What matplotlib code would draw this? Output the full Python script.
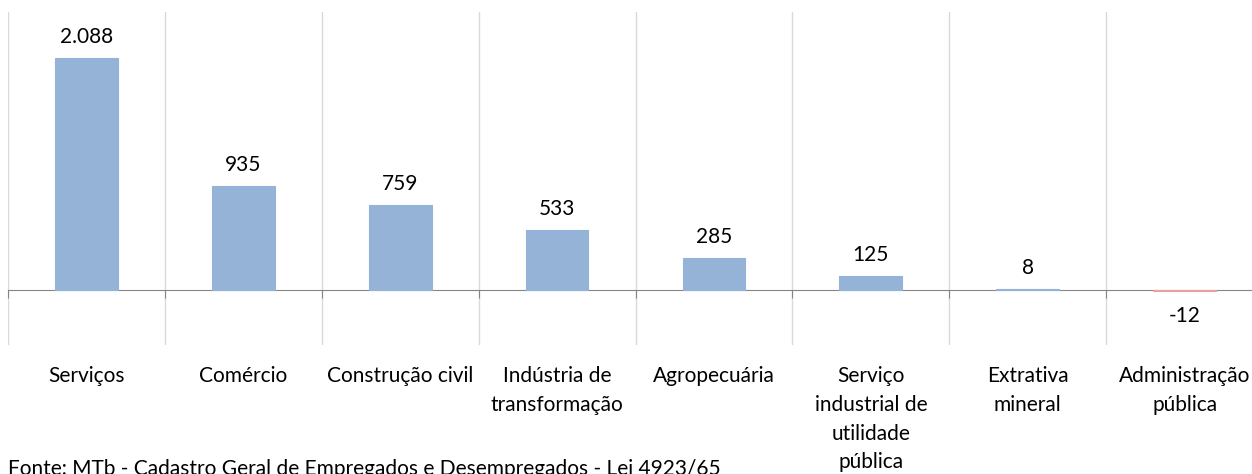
import numpy as np
import matplotlib
matplotlib.use('Agg')
from matplotlib import pyplot as plt
from matplotlib import transforms as mtransforms

categories = ['Serviços', 'Comércio', 'Construção civil', 'Indústria de\ntransformação',
              'Agropecuária', 'Serviço\nindustrial de\nutilidade\npública',
              'Extrativa\nmineral', 'Administração\npública']
values = [2088, 935, 759, 533, 285, 125, 8, -12]
value_labels = ['2.088', '935', '759', '533', '285', '125', '8', '-12']
source = 'Fonte: MTb - Cadastro Geral de Empregados e Desempregados - Lei 4923/65'

plt.rcParams['font.family'] = ['Lato', 'DejaVu Sans']

W, H = 1252, 474
fig = plt.figure(figsize=(W / 100, H / 100), dpi=100)
ax = fig.add_axes([8 / W, 1 - 345 / H, 1255 / W, 333 / H])

x = np.arange(len(values))
colors = ['#95B3D7' if v >= 0 else '#E8A0A0' for v in values]
ax.bar(x, values, width=0.4, color=colors, edgecolor=colors, linewidth=0.8, zorder=3)

ax.set_xlim(-0.5, len(values) - 0.5)
ax.set_ylim(-500, 2500)

# category separators
for b in np.arange(-0.5, len(values) + 0.5):
    ax.axvline(b, color='#D9D9D9', linewidth=1, zorder=1)

for s in ['top', 'right', 'left']:
    ax.spines[s].set_visible(False)
ax.spines['bottom'].set_position(('data', 0))
ax.spines['bottom'].set_color('#868686')
ax.spines['bottom'].set_zorder(2)
ax.set_yticks([])
ax.set_xticks(np.arange(-0.5, len(values) + 0.5))
ax.set_xticklabels([])
ax.tick_params(axis='x', direction='out', length=6, color='#868686')

for xi, v, lab in zip(x, values, value_labels):
    if v >= 0:
        ax.annotate(lab, (xi, v), xytext=(0, 8), textcoords='offset points',
                    ha='center', va='bottom', fontsize=15, color='black')
    else:
        ax.annotate(lab, (xi, 0), xytext=(0, -12), textcoords='offset points',
                    ha='center', va='top', fontsize=15, color='black')

trans = mtransforms.blended_transform_factory(ax.transData, fig.transFigure)
for xi, cat in zip(x, categories):
    ax.text(xi, 1 - 366 / H, cat, transform=trans, ha='center', va='top',
            fontsize=15, linespacing=1.55, color='black')

fig.text(8 / W, 1 - 475 / H, source, ha='left', va='baseline', fontsize=15, color='black')

fig.savefig('out.png', dpi=100)
